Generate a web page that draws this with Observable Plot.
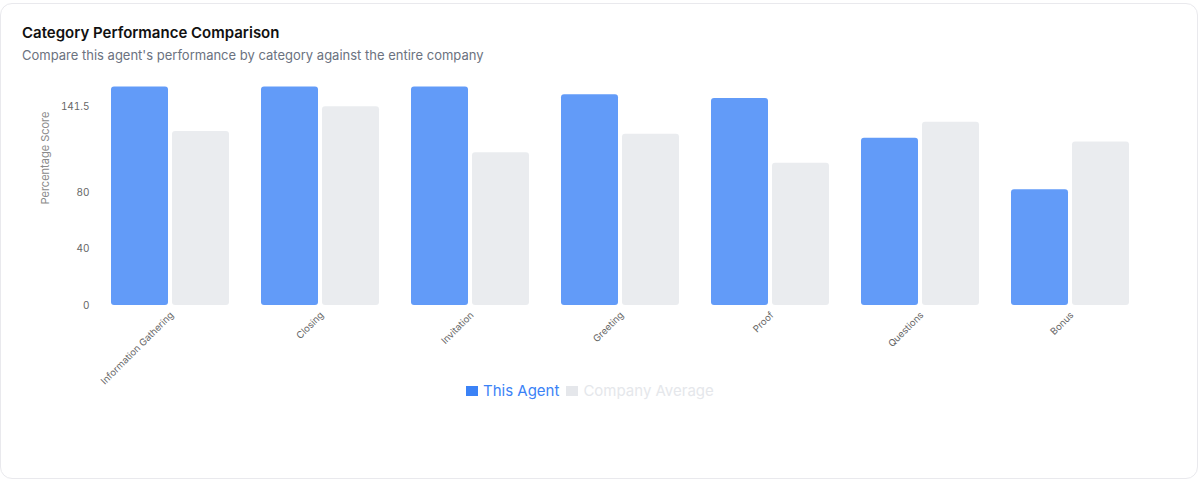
<!DOCTYPE html>
<html>
<head>
<meta charset="utf-8">
<script src="https://cdn.jsdelivr.net/npm/d3@7"></script>
<script src="https://cdn.jsdelivr.net/npm/@observablehq/plot@0.6"></script>
<style>
  html, body { margin: 0; padding: 0; background: #fff; font-family: Inter, "Noto Sans", sans-serif; }
  .card { position: absolute; left: 0; top: 3px; width: 1198px; height: 476px; box-sizing: border-box;
          border: 1px solid #e9e9ed; border-radius: 12px; }
  .title { position: absolute; left: 22px; top: 24px; font-size: 15px; line-height: 18px; font-weight: 600; color: #111; }
  .subtitle { position: absolute; left: 22px; top: 47px; font-size: 13px; line-height: 16px; color: #6b7280; }
  #chart { position: absolute; left: 0; top: 70px; }
  .ylabel { position: absolute; left: 45px; top: 158px; transform: translate(-50%, -50%) rotate(-90deg);
            font-size: 11px; color: #8a8a8a; white-space: nowrap; }
  .legend { position: absolute; left: 466px; top: 381px; display: flex; align-items: center; font-size: 15px; line-height: 20px; }
  .legend .item { display: flex; align-items: center; margin-right: 7px; }
  .legend .sw { width: 12px; height: 10px; margin-right: 5px; }
</style>
</head>
<body>
<div class="card"></div>
<div class="title">Category Performance Comparison</div>
<div class="subtitle">Compare this agent's performance by category against the entire company</div>
<div id="chart"></div>
<div class="ylabel">Percentage Score</div>
<div class="legend" id="legend"></div>
<script>
const categories = ["Information Gathering", "Closing", "Invitation", "Greeting", "Proof", "Questions", "Bonus"];
const seriesNames = ["This Agent", "Company Average"];
const agentValues = [165, 162, 160, 150, 147.3, 119, 82.3];
const companyValues = [123.8, 141.5, 108.7, 121.8, 101.2, 130.5, 116.3];
const yTicks = [0, 40, 80, 141.5];
const seriesColors = ["#3b82f6", "#e5e7eb"];

const rows = [];
categories.forEach((c, i) => {
  rows.push({category: c, series: seriesNames[0], value: agentValues[i]});
  rows.push({category: c, series: seriesNames[1], value: companyValues[i]});
});

const chart = Plot.plot({
  width: 1200,
  height: 320,
  marginLeft: 95,
  marginRight: 54,
  marginTop: 16.5,
  marginBottom: 85,
  style: {fontFamily: "Inter, sans-serif", fontSize: "10px", color: "#666", background: "transparent"},
  fx: {domain: categories, paddingInner: 0.2084, paddingOuter: 0.1, label: null},
  x: {domain: seriesNames, paddingInner: 0.065, paddingOuter: 0, axis: null},
  y: {domain: [0, 155.5], clamp: true},
  color: {domain: seriesNames, range: seriesColors},
  marks: [
    Plot.barY(rows, {fx: "category", x: "series", y: "value", fill: "series", fillOpacity: 0.8, rx: 3}),
    Plot.axisY({ticks: yTicks, tickSize: 0, tickPadding: 22, tickFormat: d => String(d), fontSize: 10, label: null, fill: "#666"}),
    Plot.axisFx({anchor: "bottom", tickRotate: -45, tickSize: 0, tickPadding: 8, dx: 1, label: null, fontSize: 9.5, fill: "#666"})
  ]
});
document.getElementById("chart").appendChild(chart);

const legend = document.getElementById("legend");
const textColors = ["#3b82f6", "#e5e7eb"];
seriesNames.forEach((s, i) => {
  const item = document.createElement("div");
  item.className = "item";
  const sw = document.createElement("span");
  sw.className = "sw";
  sw.style.background = seriesColors[i];
  const t = document.createElement("span");
  t.textContent = s;
  t.style.color = textColors[i];
  item.appendChild(sw);
  item.appendChild(t);
  legend.appendChild(item);
});
</script>
</body>
</html>
